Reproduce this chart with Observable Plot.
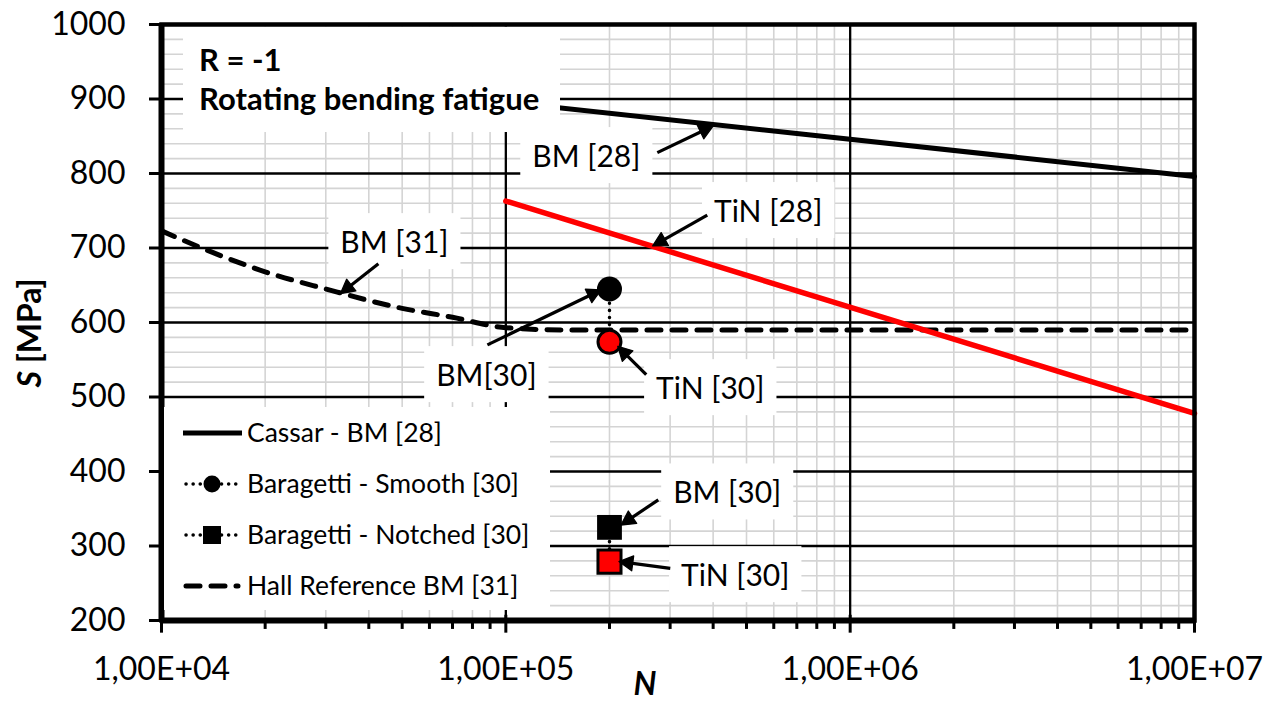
<!DOCTYPE html>
<html><head><meta charset="utf-8">
<script src="https://cdn.jsdelivr.net/npm/d3@7"></script>
<script src="https://cdn.jsdelivr.net/npm/@observablehq/plot@0.6"></script>
<style>
body{margin:0;background:#fff;}
#chart{position:relative;width:1273px;height:704px;}
</style>
</head><body><div id="chart"></div>
<script>
// ---------- data ----------
const cassarN = [1e5, 1e7];
const cassarS = [896, 796];
const tinN = [1e5, 1e7];
const tinS = [763, 478];
const hallN = [1e4, 1.5e4, 2e4, 3e4, 5e4, 7e4, 1e5, 1.5e5, 1e7];
const hallS = [723, 689, 668, 645, 619, 607, 593, 590, 590];
const smoothN = [2e5, 2e5];      // BM, TiN
const smoothS = [645, 574];
const notchedN = [2e5, 2e5];     // BM, TiN
const notchedS = [325, 279];

const xTickValues = [1e4, 1e5, 1e6, 1e7];
const xTickLabels = ["1,00E+04", "1,00E+05", "1,00E+06", "1,00E+07"];
const yTickValues = [200, 300, 400, 500, 600, 700, 800, 900, 1000];
const yTickLabels = ["200", "300", "400", "500", "600", "700", "800", "900", "1000"];

// annotation labels (centre positions in data units)
const annoText = ["BM [28]", "TiN [28]", "BM [31]", "BM[30]", "TiN [30]", "BM [30]", "TiN [30]"];
const annoN = [171300, 578000, 47470, 87800, 392400, 439500, 463700];
const annoS = [821.5, 747.7, 706, 527.5, 510, 370, 259];
// arrows (from -> to, in data units)
const arrowN1 = [275400, 384600, 42650, 88400, 255700, 277200, 300300];
const arrowS1 = [828, 744, 679, 570, 530, 362, 270];
const arrowN2 = [384600, 277200, 34200, 181900, 217900, 223800, 222300];
const arrowS2 = [860, 707, 644, 640, 562, 333, 278];

const titleLines = ["R = -1", "Rotating bending fatigue"];
const legendLabels = ["Cassar - BM [28]", "Baragetti - Smooth [30]", "Baragetti - Notched [30]", "Hall Reference BM [31]"];

// ---------- derived tables ----------
const toRows = (N, S) => N.map((n, i) => ({N: n, S: S[i]}));
const cassar = toRows(cassarN, cassarS);
const tin = toRows(tinN, tinS);
const hall = toRows(hallN, hallS);
const smooth = toRows(smoothN, smoothS);
const notched = toRows(notchedN, notchedS);
const annos = annoText.map((t, i) => ({t, N: annoN[i], S: annoS[i]}));
const arrows = arrowN1.map((n, i) => ({N1: n, S1: arrowS1[i], N2: arrowN2[i], S2: arrowS2[i]}));

// grid positions
const minorX = [];
for (const k of [1e4, 1e5, 1e6]) for (let m = 2; m <= 9; m++) minorX.push(m * k);
const majorX = [1e5, 1e6];
const minorY = [];
for (let v = 220; v < 1000; v += 20) if (v % 100 !== 0) minorY.push(v);
const majorY = yTickValues.slice(1, -1);

const plot = Plot.plot({
  width: 1273,
  height: 704,
  marginLeft: 161,
  marginRight: 79,
  marginTop: 24,
  marginBottom: 84,
  style: {fontFamily: "Lato", fontSize: "32px", background: "white", color: "black"},
  x: {type: "log", domain: [1e4, 1e7], ticks: xTickValues,
      tickFormat: d => xTickLabels[xTickValues.indexOf(d)],
      tickSize: 0, tickPadding: 37, label: null},
  y: {domain: [200, 1000], ticks: yTickValues,
      tickFormat: d => yTickLabels[yTickValues.indexOf(d)],
      tickSize: 0, tickPadding: 36, label: null},
  marks: [
    // minor grid
    Plot.ruleX(minorX, {stroke: "#d4d4d4", strokeWidth: 1.6}),
    Plot.ruleY(minorY, {stroke: "#d4d4d4", strokeWidth: 1.6}),
    // major grid
    Plot.ruleX(majorX, {stroke: "black", strokeWidth: 2.3}),
    Plot.ruleY(majorY, {stroke: "black", strokeWidth: 2.3}),
    // ticks outside the frame
    Plot.ruleX(minorX, {y1: 200, y2: 188, stroke: "black", strokeWidth: 3}),
    Plot.ruleX(xTickValues, {y1: 207, y2: 183, stroke: "black", strokeWidth: 3}),
    Plot.ruleY(yTickValues, {x1: 10 ** (4 - 12 / 344.5), x2: 1e4, stroke: "black", strokeWidth: 3}),
    // data lines
    Plot.line(hall, {x: "N", y: "S", curve: "monotone-x", stroke: "black", strokeWidth: 5,
      strokeDasharray: "14 11", strokeLinecap: "round"}),
    Plot.line(cassar, {x: "N", y: "S", stroke: "black", strokeWidth: 5}),
    Plot.line(tin, {x: "N", y: "S", stroke: "#ff0000", strokeWidth: 5.5}),
    Plot.line(smooth, {x: "N", y: "S", stroke: "black", strokeWidth: 3.5, strokeDasharray: "0.1 7", strokeLinecap: "round"}),
    Plot.line(notched, {x: "N", y: "S", stroke: "black", strokeWidth: 3.5, strokeDasharray: "0.1 7", strokeLinecap: "round"}),
    Plot.dot([smooth[0]], {x: "N", y: "S", r: 12.5, fill: "black"}),
    Plot.dot([smooth[1]], {x: "N", y: "S", r: 11.5, fill: "#ff0000", stroke: "black", strokeWidth: 3}),
    Plot.dot([notched[0]], {x: "N", y: "S", symbol: "square", r: 14, fill: "black"}),
    Plot.dot([notched[1]], {x: "N", y: "S", symbol: "square", r: 13, fill: "#ff0000", stroke: "black", strokeWidth: 3}),
    // annotation labels
    Plot.text(annos, {x: "N", y: "S", text: "t", fontSize: 30, fontFamily: "Lato", fill: "black", textAnchor: "middle"}),
    // arrows
    Plot.link(arrows, {x1: "N1", y1: "S1", x2: "N2", y2: "S2", stroke: "black", strokeWidth: 3.2, markerEnd: "arrow"}),
    // axis lines and frame
    Plot.ruleX([1e4], {stroke: "black", strokeWidth: 6}),
    Plot.ruleY([200], {stroke: "black", strokeWidth: 6}),
    Plot.frame({stroke: "black", strokeWidth: 4.5})
  ]
});

document.getElementById("chart").appendChild(plot);
const svg = d3.select(plot);
const NS = "http://www.w3.org/2000/svg";

// white boxes behind annotation labels
plot.querySelectorAll('g[aria-label="text"] text').forEach(t => {
  const b = t.getBBox();
  const r = document.createElementNS(NS, "rect");
  const pad = 12;
  r.setAttribute("x", b.x - pad);
  r.setAttribute("y", b.y - pad + 2);
  r.setAttribute("width", b.width + 2 * pad);
  r.setAttribute("height", b.height + 2 * pad - 4);
  r.setAttribute("fill", "white");
  r.setAttribute("stroke", "none");
  if (t.getAttribute("transform")) r.setAttribute("transform", t.getAttribute("transform"));
  t.parentNode.insertBefore(r, t);
});

// filled arrow heads
plot.querySelectorAll("marker path").forEach(p => {
  p.setAttribute("d", "M-3.5,-3.5L3,0L-3.5,3.5Z");
  p.setAttribute("fill", "black");
  p.setAttribute("stroke", "black");
  p.setAttribute("stroke-width", "0.6");
});

// title box + legend, inserted under the frame
const frameNode = plot.querySelector('[aria-label="frame"]');
const deco = svg.insert("g", () => frameNode)
  .attr("font-family", "Lato").attr("text-anchor", "start").attr("fill", "black");

deco.append("rect").attr("x", 183).attr("y", 26.5).attr("width", 377).attr("height", 105.5).attr("fill", "white");
deco.append("text").attr("x", 199).attr("y", 71).attr("font-size", 31).attr("font-weight", 700).text(titleLines[0]);
deco.append("text").attr("x", 199).attr("y", 110).attr("font-size", 31).attr("font-weight", 700).text(titleLines[1]);

deco.append("rect").attr("x", 164).attr("y", 407).attr("width", 386).attr("height", 203).attr("fill", "white");
const ly = [433, 484, 535, 586];
legendLabels.forEach((lab, i) => {
  const y = ly[i];
  const g = deco.append("g");
  if (i === 0) {
    g.append("line").attr("x1", 183).attr("x2", 242).attr("y1", y).attr("y2", y)
      .attr("stroke", "black").attr("stroke-width", 5);
  } else if (i === 1 || i === 2) {
    g.append("line").attr("x1", 186).attr("x2", 238).attr("y1", y).attr("y2", y)
      .attr("stroke", "black").attr("stroke-width", 3.5).attr("stroke-dasharray", "0.1 7").attr("stroke-linecap", "round");
    if (i === 1) g.append("circle").attr("cx", 212).attr("cy", y).attr("r", 8.5).attr("fill", "black");
    else g.append("rect").attr("x", 212 - 9).attr("y", y - 9).attr("width", 18).attr("height", 18).attr("fill", "black");
  } else {
    g.append("line").attr("x1", 186).attr("x2", 238).attr("y1", y).attr("y2", y)
      .attr("stroke", "black").attr("stroke-width", 5).attr("stroke-dasharray", "14 11").attr("stroke-linecap", "round");
  }
  g.append("text").attr("x", 247).attr("y", y).attr("dy", "0.35em").attr("font-size", 26.5).text(lab);
});

// axis titles
const yl = svg.append("text").attr("transform", "translate(30,333) rotate(-90)")
  .attr("text-anchor", "middle").attr("dy", "0.35em").attr("fill", "black")
  .attr("font-family", "Lato").attr("font-size", 32).attr("font-weight", 700);
yl.append("tspan").attr("font-style", "italic").text("S");
yl.append("tspan").text(" [MPa]");
svg.append("text").attr("x", 645).attr("y", 695).attr("text-anchor", "middle").attr("fill", "black")
  .attr("font-family", "Lato").attr("font-size", 32).attr("font-weight", 700).attr("font-style", "italic").text("N");
</script>
</body></html>
